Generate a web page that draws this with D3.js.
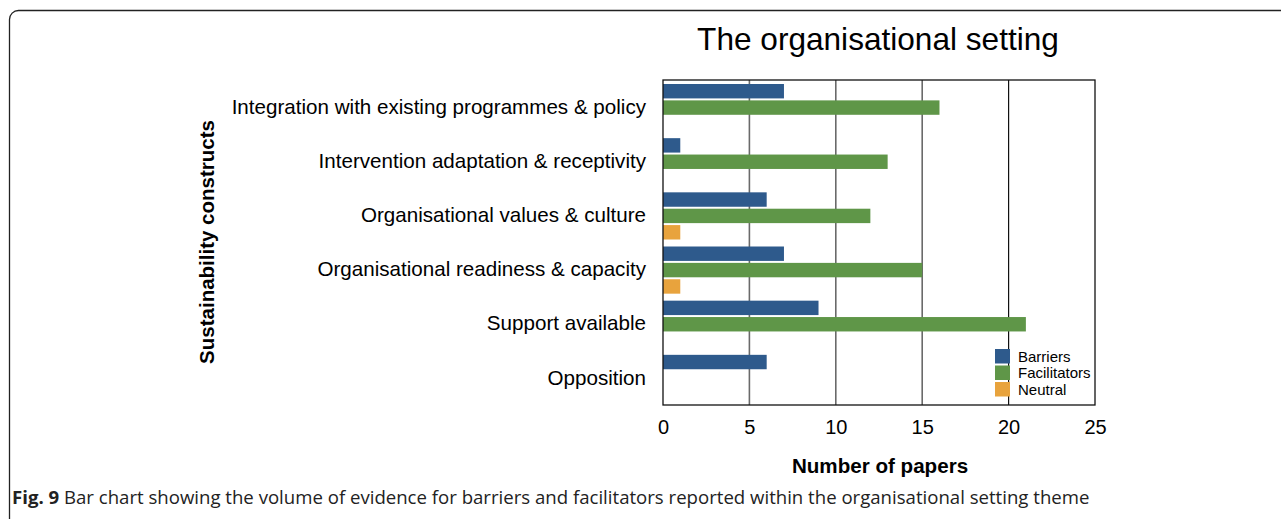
<!DOCTYPE html>
<html>
<head>
<meta charset="utf-8">
<script src="https://cdn.jsdelivr.net/npm/d3@7"></script>
<style>
body { margin: 0; background: #fff; }
svg { display: block; }
</style>
</head>
<body>
<div id="chart"></div>
<script>
// Chart data
const categories = [
  "Integration with existing programmes & policy",
  "Intervention adaptation & receptivity",
  "Organisational values & culture",
  "Organisational readiness & capacity",
  "Support available",
  "Opposition"
];
const seriesNames = ["Barriers", "Facilitators", "Neutral"];
const barriers = [7, 1, 6, 7, 9, 6];
const facilitators = [16, 13, 12, 15, 21, 0];
const neutral = [0, 0, 1, 1, 0, 0];
const xTicks = [0, 5, 10, 15, 20, 25];
const colors = ["#2e5a8c", "#5f9648", "#e8a33d"];

const W = 1281, H = 519;
const margin = {top: 80, left: 663, right: 186, bottom: 114};
const width = 1095 - margin.left,
height = 405 - margin.top;
const font = "Liberation Sans, Arial, sans-serif";

const root = d3.select("#chart")
.append("svg")
.attr("width", W)
.attr("height", H);

// Figure frame with rounded corners
root.append("rect")
.attr("x", 9.5).attr("y", 10.5)
.attr("width", W + 20).attr("height", H + 2)
.attr("rx", 9)
.attr("fill", "none")
.attr("stroke", "#222")
.attr("stroke-width", 1.3);

const svg = root.append("g")
.attr("transform", `translate(${margin.left},${margin.top})`);

const x = d3.scaleLinear().domain([0, 25]).range([0, width]);
const y = d3.scaleBand().domain(categories).range([0, height]);
const inner = d3.scaleBand().domain(seriesNames)
.range([4, y.bandwidth() - 3]).paddingInner(0.12);

// Gridlines
svg.selectAll(".grid")
.data(xTicks.filter(d => d > 0 && d < 25))
.enter().append("line")
.attr("x1", d => x(d)).attr("x2", d => x(d))
.attr("y1", 0).attr("y2", height)
.attr("stroke", d => d === 20 ? "#111" : "#6a6a6a")
.attr("stroke-width", d => d === 20 ? 1.2 : 1.6);

// Bars
const rows = categories.map((c, i) => ({
  cat: c,
  vals: [barriers[i], facilitators[i], neutral[i]]
}));
const groups = svg.selectAll(".grp")
.data(rows)
.enter().append("g")
.attr("transform", d => `translate(0,${y(d.cat)})`);

groups.selectAll("rect")
.data(d => d.vals.map((v, j) => ({name: seriesNames[j], v, j})).filter(e => e.v > 0))
.enter().append("rect")
.attr("x", x(0))
.attr("y", d => inner(d.name))
.attr("width", d => x(d.v) - x(0))
.attr("height", inner.bandwidth())
.attr("fill", d => colors[d.j]);

// Plot border
svg.append("rect")
.attr("width", width).attr("height", height)
.attr("fill", "none")
.attr("stroke", "#111")
.attr("stroke-width", 1.3);

// X axis
const xAxis = svg.append("g")
.attr("transform", `translate(0,${height})`)
.call(d3.axisBottom(x).tickValues(xTicks).tickSize(0).tickPadding(15));
xAxis.select(".domain").remove();
xAxis.selectAll("text")
.attr("font-family", font)
.attr("font-size", 20)
.attr("fill", "#000");

// Y axis labels
const yAxis = svg.append("g")
.call(d3.axisLeft(y).tickSize(0).tickPadding(17));
yAxis.select(".domain").remove();
yAxis.selectAll("text")
.attr("font-family", font)
.attr("font-size", 20.6)
.attr("fill", "#000");

// Title
root.append("text")
.attr("x", 878).attr("y", 50)
.attr("text-anchor", "middle")
.attr("font-family", font)
.attr("font-size", 31.6)
.text("The organisational setting");

// Axis titles
root.append("text")
.attr("x", 880).attr("y", 473)
.attr("text-anchor", "middle")
.attr("font-family", font)
.attr("font-weight", "bold")
.attr("font-size", 20.6)
.text("Number of papers");

root.append("text")
.attr("transform", "translate(214,242) rotate(-90)")
.attr("text-anchor", "middle")
.attr("font-family", font)
.attr("font-weight", "bold")
.attr("font-size", 20.5)
.text("Sustainability constructs");

// Legend
const legend = svg.append("g")
.attr("transform", `translate(${995 - margin.left},${349 - margin.top})`);
seriesNames.forEach((s, i) => {
  legend.append("rect")
  .attr("x", 0).attr("y", i * 16.5)
  .attr("width", 15).attr("height", 14.5)
  .attr("fill", colors[i]);
  legend.append("text")
  .attr("x", 23).attr("y", i * 16.5 + 12.5)
  .attr("font-family", font)
  .attr("font-size", 15)
  .text(s);
});

// Caption
const cap = root.append("text")
.attr("x", 12).attr("y", 504)
.attr("font-family", "Open Sans, sans-serif")
.attr("font-size", 18.6)
.attr("fill", "#222");
cap.append("tspan").attr("font-weight", "bold").text("Fig. 9");
cap.append("tspan").text(" Bar chart showing the volume of evidence for barriers and facilitators reported within the organisational setting theme");
</script>
</body>
</html>
